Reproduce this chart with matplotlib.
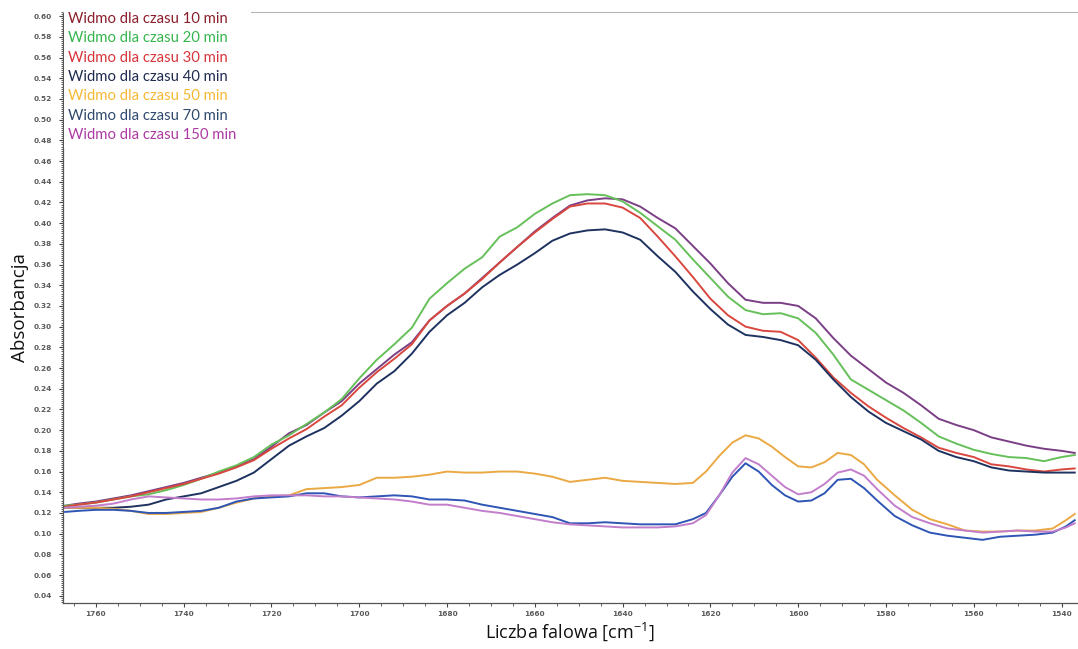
import numpy as np
import matplotlib
matplotlib.use('Agg')
import matplotlib.pyplot as plt
from matplotlib.patches import Rectangle
from matplotlib.ticker import MultipleLocator, FormatStrFormatter

# ── Dane: liczba falowa [cm-1] ──
wn_upper = [1767, 1764, 1760, 1756, 1752, 1748, 1744, 1740, 1736, 1732, 1728, 1724, 1720,
            1716, 1712, 1708, 1704, 1700, 1696, 1692, 1688, 1684, 1680, 1676, 1672, 1668,
            1664, 1660, 1656, 1652, 1648, 1644, 1640, 1636, 1632, 1628, 1624, 1620, 1616,
            1612, 1608, 1604, 1600, 1596, 1592, 1588, 1584, 1580, 1576, 1572, 1568, 1564,
            1560, 1556, 1552, 1548, 1544, 1540, 1537]

wn_lower = [1767, 1764, 1760, 1756, 1752, 1748, 1744, 1740, 1736, 1732, 1728, 1724, 1720,
            1716, 1712, 1708, 1704, 1700, 1696, 1692, 1688, 1684, 1680, 1676, 1672, 1668,
            1664, 1660, 1656, 1652, 1648, 1644, 1640, 1636, 1632, 1628, 1624, 1621, 1618,
            1615, 1612, 1609, 1606, 1603, 1600, 1597, 1594, 1591, 1588, 1585, 1582, 1578,
            1574, 1570, 1566, 1562, 1558, 1554, 1550, 1546, 1542, 1539, 1537]

# ── Absorbancja ──
abs_10 = [0.127, 0.129, 0.131, 0.134, 0.137, 0.141, 0.145, 0.149, 0.154, 0.159, 0.165, 0.172, 0.184,
          0.197, 0.205, 0.217, 0.228, 0.245, 0.259, 0.273, 0.285, 0.306, 0.320, 0.332, 0.347, 0.362,
          0.377, 0.392, 0.405, 0.417, 0.422, 0.424, 0.423, 0.416, 0.405, 0.395, 0.378, 0.361, 0.342,
          0.326, 0.323, 0.323, 0.320, 0.308, 0.289, 0.272, 0.259, 0.246, 0.236, 0.224, 0.211, 0.205,
          0.200, 0.193, 0.189, 0.185, 0.182, 0.180, 0.178]
abs_20 = [0.127, 0.128, 0.130, 0.133, 0.136, 0.138, 0.142, 0.147, 0.153, 0.160, 0.166, 0.174, 0.186,
          0.195, 0.206, 0.217, 0.230, 0.250, 0.268, 0.283, 0.299, 0.327, 0.342, 0.356, 0.367, 0.387,
          0.396, 0.409, 0.419, 0.427, 0.428, 0.427, 0.421, 0.410, 0.397, 0.384, 0.365, 0.347, 0.329,
          0.316, 0.312, 0.313, 0.308, 0.294, 0.273, 0.249, 0.239, 0.229, 0.219, 0.207, 0.194, 0.187,
          0.181, 0.177, 0.174, 0.173, 0.170, 0.174, 0.176]
abs_30 = [0.126, 0.128, 0.130, 0.133, 0.136, 0.140, 0.144, 0.148, 0.153, 0.158, 0.164, 0.171, 0.182,
          0.192, 0.201, 0.213, 0.224, 0.241, 0.256, 0.269, 0.283, 0.306, 0.320, 0.332, 0.346, 0.362,
          0.377, 0.391, 0.404, 0.416, 0.419, 0.419, 0.415, 0.405, 0.387, 0.368, 0.348, 0.327, 0.311,
          0.300, 0.296, 0.295, 0.287, 0.270, 0.251, 0.236, 0.223, 0.212, 0.202, 0.193, 0.183, 0.178,
          0.174, 0.167, 0.165, 0.162, 0.160, 0.162, 0.163]
abs_40 = [0.125, 0.125, 0.125, 0.125, 0.126, 0.128, 0.133, 0.136, 0.139, 0.145, 0.151, 0.159, 0.172,
          0.185, 0.194, 0.202, 0.214, 0.228, 0.245, 0.257, 0.274, 0.295, 0.311, 0.323, 0.338, 0.350,
          0.360, 0.371, 0.383, 0.390, 0.393, 0.394, 0.391, 0.384, 0.368, 0.353, 0.334, 0.317, 0.302,
          0.292, 0.290, 0.287, 0.282, 0.268, 0.249, 0.232, 0.218, 0.207, 0.199, 0.191, 0.180, 0.174,
          0.170, 0.164, 0.161, 0.160, 0.159, 0.159, 0.159]
abs_50 = [0.125, 0.125, 0.125, 0.124, 0.122, 0.119, 0.119, 0.120, 0.121, 0.125, 0.130, 0.134, 0.136,
          0.137, 0.143, 0.144, 0.145, 0.147, 0.154, 0.154, 0.155, 0.157, 0.160, 0.159, 0.159, 0.160,
          0.160, 0.158, 0.155, 0.150, 0.152, 0.154, 0.151, 0.150, 0.149, 0.148, 0.149, 0.160, 0.175,
          0.188, 0.195, 0.192, 0.184, 0.174, 0.165, 0.164, 0.169, 0.178, 0.176, 0.167, 0.152, 0.137,
          0.123, 0.114, 0.109, 0.103, 0.102, 0.102, 0.103, 0.103, 0.105, 0.113, 0.119]
abs_70 = [0.121, 0.122, 0.123, 0.123, 0.122, 0.120, 0.120, 0.121, 0.122, 0.125, 0.131, 0.134, 0.135,
          0.136, 0.139, 0.139, 0.136, 0.135, 0.136, 0.137, 0.136, 0.133, 0.133, 0.132, 0.128, 0.125,
          0.122, 0.119, 0.116, 0.110, 0.110, 0.111, 0.110, 0.109, 0.109, 0.109, 0.114, 0.120, 0.137,
          0.155, 0.168, 0.160, 0.147, 0.137, 0.131, 0.132, 0.139, 0.152, 0.153, 0.144, 0.132, 0.117,
          0.108, 0.101, 0.098, 0.096, 0.094, 0.097, 0.098, 0.099, 0.101, 0.107, 0.113]
abs_150 = [0.125, 0.126, 0.127, 0.129, 0.133, 0.136, 0.135, 0.134, 0.133, 0.133, 0.134, 0.136, 0.137,
           0.137, 0.137, 0.136, 0.136, 0.135, 0.134, 0.133, 0.131, 0.128, 0.128, 0.125, 0.122, 0.120,
           0.117, 0.114, 0.111, 0.109, 0.108, 0.107, 0.106, 0.106, 0.106, 0.107, 0.110, 0.118, 0.137,
           0.159, 0.173, 0.167, 0.156, 0.145, 0.138, 0.140, 0.148, 0.159, 0.162, 0.156, 0.143, 0.127,
           0.116, 0.110, 0.105, 0.103, 0.101, 0.102, 0.103, 0.102, 0.102, 0.106, 0.110]

labels = ['Widmo dla czasu 10 min', 'Widmo dla czasu 20 min', 'Widmo dla czasu 30 min',
          'Widmo dla czasu 40 min', 'Widmo dla czasu 50 min', 'Widmo dla czasu 70 min',
          'Widmo dla czasu 150 min']
line_colors = ['#7b3f86', '#66c05a', '#d9483f', '#1e3260', '#eaa944', '#2f55b5', '#c27ecb']
text_colors = ['#8a1f2a', '#35b54d', '#d8343b', '#1f2b4f', '#f7b934', '#2f4a6e', '#ad3aa3']

series = [(wn_upper, abs_10), (wn_upper, abs_20), (wn_upper, abs_30), (wn_upper, abs_40),
          (wn_lower, abs_50), (wn_lower, abs_70), (wn_lower, abs_150)]

# ── Wykres ──
fig = plt.figure(figsize=(10.78, 6.49), dpi=100)
ax = fig.add_axes([0.0584, 0.0709, 0.9406, 0.9106])

for (x, y), c in zip(series, line_colors):
    ax.plot(x, y, color=c, linewidth=1.4)

ax.set_xlim(1767.5, 1536.5)
ax.set_ylim(0.033, 0.604)

ax.xaxis.set_major_locator(MultipleLocator(20))
ax.xaxis.set_minor_locator(MultipleLocator(5))
ax.yaxis.set_major_locator(MultipleLocator(0.02))
ax.yaxis.set_minor_locator(MultipleLocator(0.002))
ax.yaxis.set_major_formatter(FormatStrFormatter('%.2f'))

ax.tick_params(axis='both', which='major', labelsize=5.3, labelcolor='#5a5a5a', color='#444444',
               length=3, width=0.8, direction='out')
ax.tick_params(axis='both', which='minor', color='#444444', length=1.8, width=0.6, direction='out')
ax.tick_params(axis='x', which='major', pad=3)
ax.tick_params(axis='y', which='major', pad=5)
for t in ax.get_xticklabels() + ax.get_yticklabels():
    t.set_fontweight('bold')

for s in ['left', 'bottom']:
    ax.spines[s].set_color('#555555')
    ax.spines[s].set_linewidth(0.9)
ax.spines['top'].set_color('#b5b5b5')
ax.spines['top'].set_linewidth(0.8)
ax.spines['right'].set_visible(False)

ax.set_ylabel('Absorbancja', fontsize=13.5, family='Open Sans', labelpad=3, color='#111111')
ax.set_xlabel('Liczba falowa [cm$^{\\mathregular{-1}}$]', fontsize=13, family='Open Sans',
              labelpad=2, color='#111111')

# ── Legenda jako kolorowy tekst na białym tle ──
box = Rectangle((0.001, 0.77), 0.184, 0.235, transform=ax.transAxes, facecolor='white',
                edgecolor='none', zorder=5, clip_on=False)
ax.add_patch(box)
for i, (lab, c) in enumerate(zip(labels, text_colors)):
    ax.text(0.005, 0.988 - i * 0.0327, lab, transform=ax.transAxes, color=c, fontsize=10.7,
            family='Lato', va='center', ha='left', zorder=6)

plt.savefig('out.png', dpi=100)
